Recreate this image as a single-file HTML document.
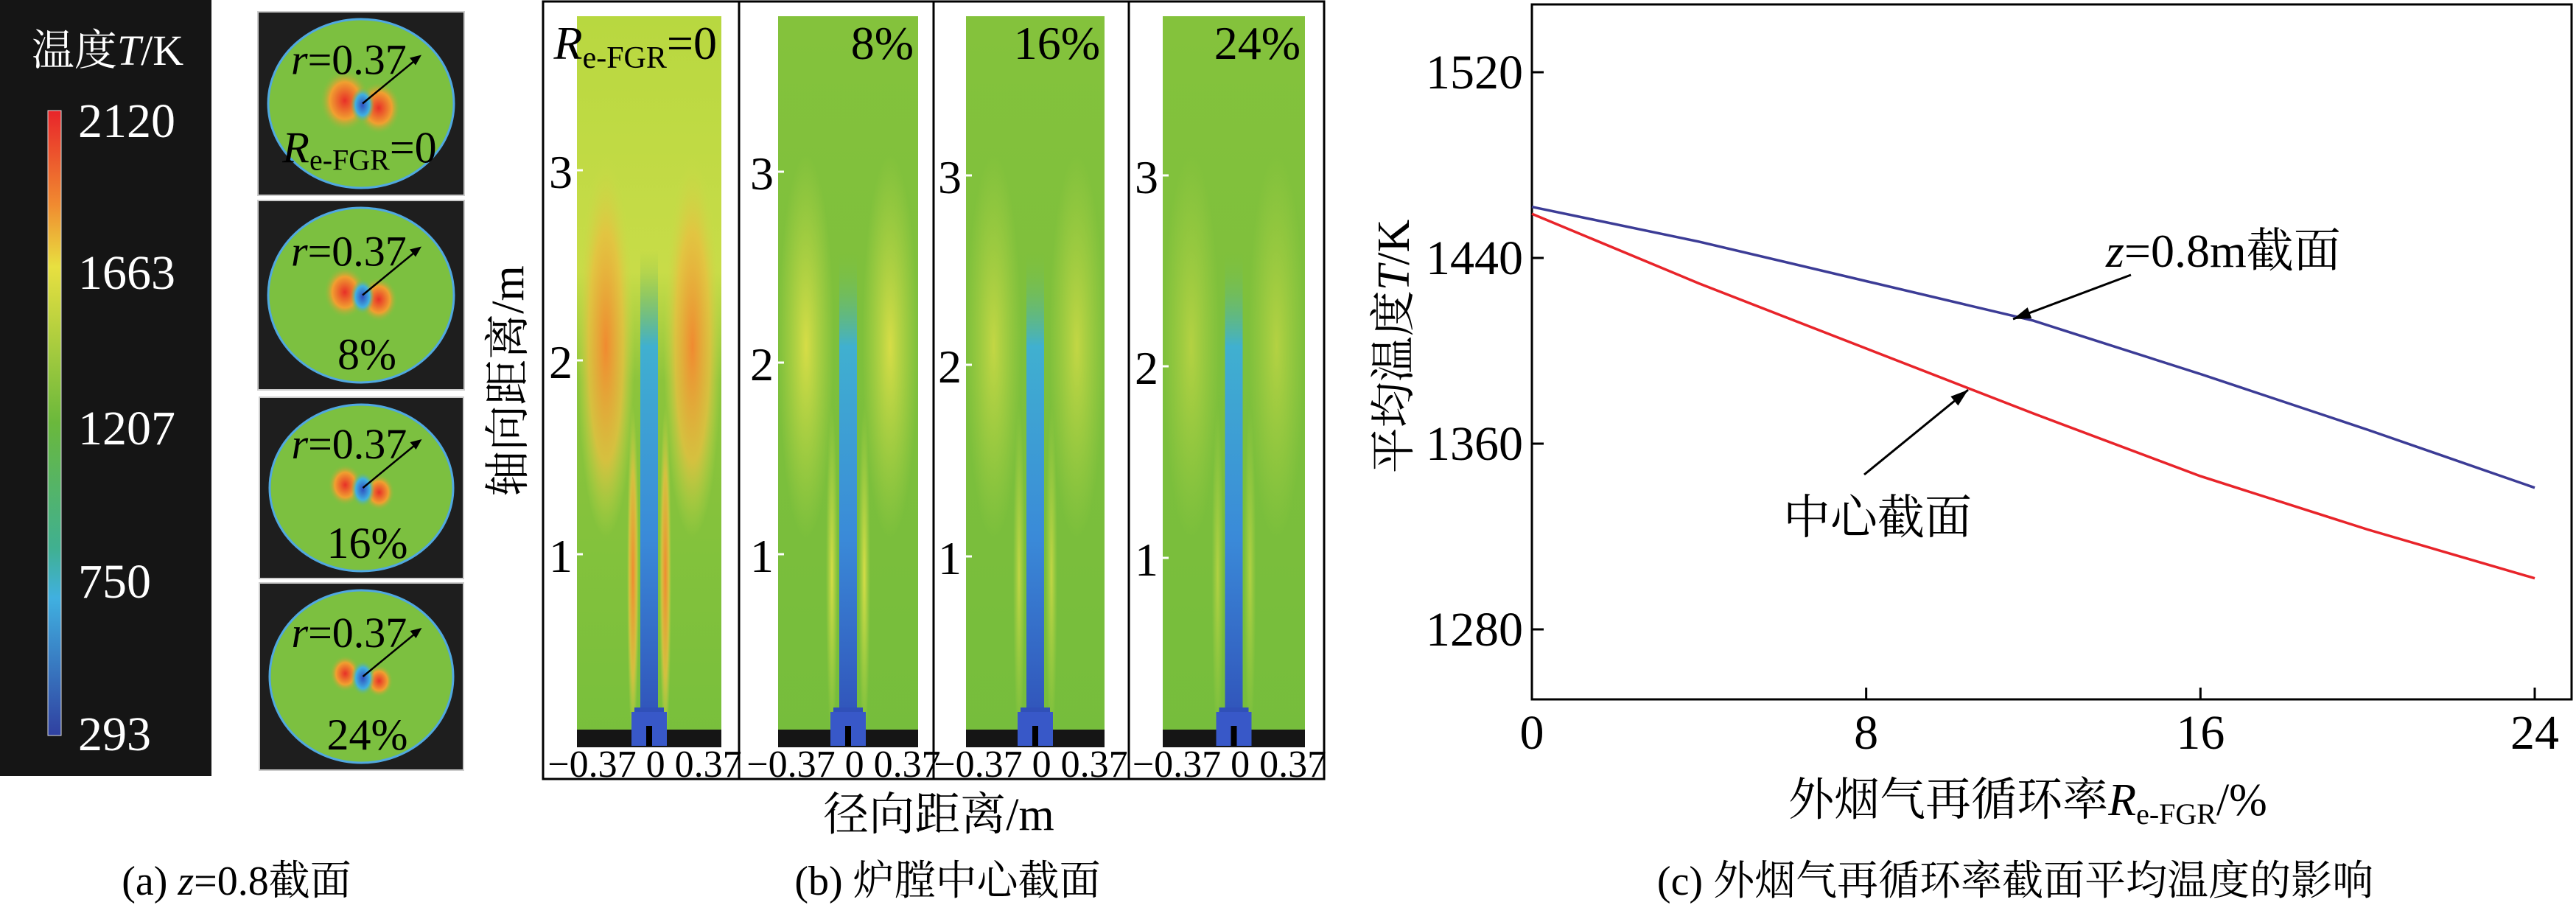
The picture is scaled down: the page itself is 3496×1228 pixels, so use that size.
<!DOCTYPE html>
<html><head><meta charset="utf-8">
<style>
html,body{margin:0;padding:0;background:#fff;}
svg{display:block;}
text{font-family:"Liberation Serif","Noto Serif CJK SC","Noto Sans CJK SC",serif;}
</style></head>
<body>
<svg id="fig" width="3496" height="1228" viewBox="0 0 3496 1228" xmlns="http://www.w3.org/2000/svg">
<defs>
<linearGradient id="cbar" x1="0" y1="0" x2="0" y2="1">
<stop offset="0" stop-color="#e8242a"/><stop offset="0.15" stop-color="#f08a30"/><stop offset="0.25" stop-color="#e8e040"/>
<stop offset="0.5" stop-color="#6ab83c"/><stop offset="0.7" stop-color="#40b090"/><stop offset="0.78" stop-color="#40b0e0"/><stop offset="1" stop-color="#3040a0"/>
</linearGradient>
<linearGradient id="jet" x1="0" y1="0" x2="0" y2="1">
<stop offset="0" stop-color="#7cc040" stop-opacity="0"/><stop offset="0.2" stop-color="#40b0d0"/><stop offset="0.6" stop-color="#3a8ad8"/><stop offset="1" stop-color="#3050b8"/>
</linearGradient>
<linearGradient id="top1" x1="0" y1="0" x2="0" y2="1">
<stop offset="0" stop-color="#b8d840"/><stop offset="0.35" stop-color="#c8dc48"/><stop offset="0.5" stop-color="#8cc43c"/><stop offset="1" stop-color="#78bf3c"/>
</linearGradient>
<linearGradient id="topn" x1="0" y1="0" x2="0" y2="1">
<stop offset="0" stop-color="#84c23c"/><stop offset="1" stop-color="#76bd3c"/>
</linearGradient>
<radialGradient id="flameO"><stop offset="0" stop-color="#f08a30"/><stop offset="0.6" stop-color="#e8c040" stop-opacity="0.8"/><stop offset="1" stop-color="#c8dc48" stop-opacity="0"/></radialGradient>
<radialGradient id="flameY"><stop offset="0" stop-color="#e0e048"/><stop offset="1" stop-color="#c8dc48" stop-opacity="0"/></radialGradient>
<radialGradient id="blobR"><stop offset="0" stop-color="#e83028"/><stop offset="0.6" stop-color="#f0a030"/><stop offset="1" stop-color="#7cc040" stop-opacity="0"/></radialGradient>
<radialGradient id="blobB"><stop offset="0" stop-color="#3050c0"/><stop offset="0.6" stop-color="#40b0e0"/><stop offset="1" stop-color="#7cc040" stop-opacity="0"/></radialGradient>
</defs>

<g>
<rect x="0" y="0" width="287" height="1053" fill="#151515"/>
<text x="146" y="88" fill="#fff" font-size="58" text-anchor="middle">温度<tspan font-style="italic">T</tspan>/K</text>
<rect x="65" y="150" width="18" height="848" fill="url(#cbar)" stroke="#ddd" stroke-width="1"/>
<g fill="#fff" font-size="66">
<text x="106" y="186">2120</text><text x="106" y="392">1663</text><text x="106" y="603">1207</text><text x="106" y="811">750</text><text x="106" y="1018">293</text>
</g>
</g>

<g id="circles"></g>

<g>
<rect x="737" y="2" width="1060" height="1055" fill="#fff" stroke="#000" stroke-width="3"/>
<line x1="1003" y1="2" x2="1003" y2="1057" stroke="#000" stroke-width="3"/>
<line x1="1267" y1="2" x2="1267" y2="1057" stroke="#000" stroke-width="3"/>
<line x1="1532" y1="2" x2="1532" y2="1057" stroke="#000" stroke-width="3"/>
<g id="maps"></g>
<text transform="translate(710,517) rotate(-90)" font-size="62" text-anchor="middle">轴向距离/m</text>
<text x="1274" y="1126" font-size="62" text-anchor="middle">径向距离/m</text>
</g>

<text x="321" y="1214" font-size="56" text-anchor="middle">(a) <tspan font-style="italic">z</tspan>=0.8截面</text>
<text x="1286" y="1214" font-size="56" text-anchor="middle">(b) 炉膛中心截面</text>

<g id="chart"></g>
<text x="2735" y="1214" font-size="56" text-anchor="middle">(c) 外烟气再循环率截面平均温度的影响</text>

<script>
const NS='http://www.w3.org/2000/svg';
function mk(tag,attrs,parent){const e=document.createElementNS(NS,tag);for(const k in attrs)e.setAttribute(k,attrs[k]);parent.appendChild(e);return e;}
function rich(t,parts){parts.forEach(p=>{const s=mk('tspan',p[1]||{},t);s.textContent=p[0];});}

const xCats=[0,4,8,12,16,20,24];
const seriesZ08=[1462,1447,1430,1413,1390,1366,1341];
const seriesCenter=[1459,1429,1401,1373,1346,1323,1302];
const yTicks=[1280,1360,1440,1520];
const xTicks=[0,8,16,24];

const X0=2079,X1=3490,Y0=6,Y1=949;
function xs(v){return 2079+v*(3440-2079)/24;}
function ys(t){return 350+(1440-t)*3.15;}

const ch=document.getElementById('chart');
let r=mk('rect',{x:X0,y:Y0,width:X1-X0,height:Y1-Y0,fill:'none',stroke:'#000','stroke-width':3},ch);


yTicks.forEach(t=>{
  const l=mk('line',{x1:X0,x2:X0+16,y1:ys(t),y2:ys(t),stroke:'#000','stroke-width':3},ch);
  
  
  const tx=mk('text',{x:X0-12,y:ys(t)+22,'font-size':66,'text-anchor':'end'},ch);
  tx.textContent=t;
  
  
});
xTicks.forEach(v=>{
  const l=mk('line',{x1:xs(v),x2:xs(v),y1:Y1,y2:Y1-16,stroke:'#000','stroke-width':3},ch);
  
  
  const tx=mk('text',{x:xs(v),y:1016,'font-size':66,'text-anchor':'middle'},ch);
  tx.textContent=v;
  
  
});
function line(vals,color,name){
  const d=vals.map((v,i)=>(i?'L':'M')+xs(xCats[i]).toFixed(1)+','+ys(v).toFixed(1)).join(' ');
  const p=mk('path',{d:d,fill:'none',stroke:color,'stroke-width':3.5},ch);
  
  
}
line(seriesZ08,'#3c3c96','line-z-0.8m');
line(seriesCenter,'#e8242a','line-center');
let yt=mk('text',{transform:'translate(1912,470) rotate(-90)','font-size':62,'text-anchor':'middle'},ch);
rich(yt,[['平均温度'],['T',{'font-style':'italic'}],['/K']]);


let xt=mk('text',{x:2752,y:1106,'font-size':62,'text-anchor':'middle'},ch);
rich(xt,[['外烟气再循环率'],['R',{'font-style':'italic'}],['e-FGR',{'font-size':40,dy:12}],['/%',{dy:-12}]]);


function arrow(x1,y1,x2,y2,name){
  const g=mk('g',{},ch);
  
  
  mk('line',{x1:x1,y1:y1,x2:x2,y2:y2,stroke:'#000','stroke-width':3},g);
  const a=Math.atan2(y2-y1,x2-x1),L=24,w=8;
  const bx=x2-L*Math.cos(a),by=y2-L*Math.sin(a);
  mk('polygon',{points:`${x2},${y2} ${bx+w*Math.sin(a)},${by-w*Math.cos(a)} ${bx-w*Math.sin(a)},${by+w*Math.cos(a)}`,fill:'#000'},g);
}
let a1=mk('text',{x:2858,y:362,'font-size':64},ch);
rich(a1,[['z',{'font-style':'italic'}],['=0.8m截面']]);


arrow(2892,373,2732,433,'arrow-z-0.8m');
let a2=mk('text',{x:2420,y:724,'font-size':64},ch);
a2.textContent='中心截面';


arrow(2530,644,2671,529,'arrow-center');

const circ=document.getElementById('circles');
const cp=[[350,16,280,249,'Re'],[350,272,280,257,'8%'],[352,539,277,246,'16%'],[352,791,277,254,'24%']];
const blobScale=[1,0.8,0.6,0.5];
cp.forEach((p,i)=>{
  const g=mk('g',{},circ);
  
  
  mk('rect',{x:p[0],y:p[1],width:p[2],height:p[3],fill:'#1e1e1e',stroke:'#ccc','stroke-width':2},g);
  const cx=p[0]+p[2]/2,cy=p[1]+p[3]/2;
  mk('ellipse',{cx:cx,cy:cy,rx:p[2]/2-14,ry:p[3]/2-10,fill:'#7cc040',stroke:'#50a8e0','stroke-width':3},g);
  const s=blobScale[i];
  mk('ellipse',{cx:cx-22,cy:cy-4,rx:26*s+8,ry:34*s+8,fill:'url(#blobR)'},g);
  mk('ellipse',{cx:cx+24,cy:cy+6,rx:22*s+8,ry:28*s+8,fill:'url(#blobR)'},g);
  mk('ellipse',{cx:cx+2,cy:cy+2,rx:16,ry:24,fill:'url(#blobB)'},g);
  mk('line',{x1:cx+2,y1:cy,x2:cx+75,y2:cy-60,stroke:'#000','stroke-width':2.5},g);
  mk('polygon',{points:`${cx+82},${cy-66} ${cx+66},${cy-62} ${cx+74},${cy-52}`,fill:'#000'},g);
  const t=mk('text',{x:cx-95,y:cy-40,'font-size':58},g);
  rich(t,[['r',{'font-style':'italic'}],['=0.37']]);
  const t2=mk('text',{x:cx+8,y:p[1]+p[3]-28,'font-size':60,'text-anchor':'middle'},g);
  if(p[4]==='Re'){t2.setAttribute('x',cx-2);t2.setAttribute('y',cy+80);rich(t2,[['R',{'font-style':'italic'}],['e-FGR',{'font-size':40,dy:10}],['=0',{dy:-10}]]);}
  else t2.textContent=p[4];
});

const maps=document.getElementById('maps');
const mp=[[783,979,'0',231,489,752,1],[1056,1246,'8%',233,492,752,0.6],[1311,1499,'16%',238,495,755,0.4],[1578,1771,'24%',238,497,757,0.25]];
mp.forEach((p,i)=>{
  const g=mk('g',{},maps);
  
  
  const x=p[0],w=p[1]-p[0],cx=x+w/2;
  mk('rect',{x:x,y:22,width:w,height:992,fill:i===0?'url(#top1)':'url(#topn)'},g);
  const f=p[6];
  mk('ellipse',{cx:x+w*0.2,cy:470,rx:w*0.2,ry:260,fill:i===0?'url(#flameO)':'url(#flameY)','fill-opacity':Math.min(1,f+0.3)},g);
  mk('ellipse',{cx:x+w*0.8,cy:470,rx:w*0.2,ry:260,fill:i===0?'url(#flameO)':'url(#flameY)','fill-opacity':Math.min(1,f+0.3)},g);
  mk('ellipse',{cx:cx-22,cy:780,rx:8,ry:230,fill:i===0?'url(#flameO)':'url(#flameY)','fill-opacity':f+0.3},g);
  mk('ellipse',{cx:cx+22,cy:780,rx:8,ry:230,fill:i===0?'url(#flameO)':'url(#flameY)','fill-opacity':f+0.3},g);
  mk('rect',{x:cx-12,y:340,width:24,height:650,fill:'url(#jet)'},g);
  mk('rect',{x:cx-20,y:960,width:40,height:40,fill:'#3050b8'},g);
  mk('rect',{x:x,y:990,width:w,height:24,fill:'#151515'},g);
  mk('rect',{x:cx-24,y:966,width:48,height:46,fill:'#3858c8'},g);
  mk('rect',{x:cx-4,y:985,width:8,height:27,fill:'#000'},g);
  [[p[3],'3'],[p[4],'2'],[p[5],'1']].forEach(tk=>{
    mk('line',{x1:x-8,x2:x+8,y1:tk[0],y2:tk[0],stroke:'#fff','stroke-width':3},g);
    const t=mk('text',{x:x-22,y:tk[0]+24,'font-size':64,'text-anchor':'middle'},g);t.textContent=tk[1];
  });
  const xl=mk('text',{x:cx-6,y:1054,'font-size':52,'text-anchor':'middle'},g);xl.textContent='−0.37 0 0.37';
  const lab=mk('text',{x:p[1]-6,y:80,'font-size':64,'text-anchor':'end'},g);
  if(i===0)rich(lab,[['R',{'font-style':'italic'}],['e-FGR',{'font-size':42,dy:12}],['=0',{dy:-12}]]);
  else lab.textContent=p[2];
});
</script>
</svg>
</body></html>
